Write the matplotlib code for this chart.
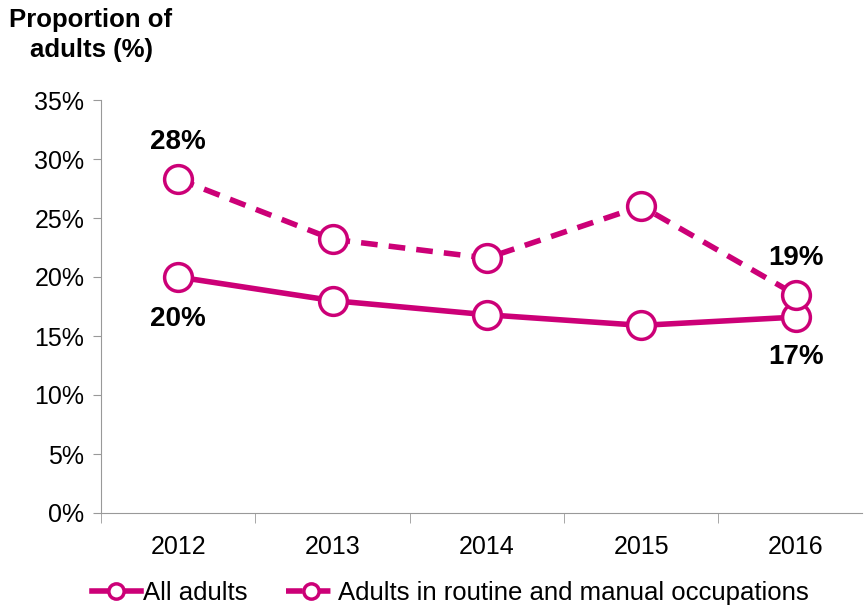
import numpy as np
import matplotlib.pyplot as plt
from matplotlib.ticker import PercentFormatter

years = ['2012', '2013', '2014', '2015', '2016']
all_adults = [20.0, 18.0, 16.8, 15.9, 16.6]
routine_manual = [28.3, 23.2, 21.6, 26.0, 18.5]
yticks = [0, 5, 10, 15, 20, 25, 30, 35]

plt.rcParams['font.family'] = ['Liberation Sans', 'DejaVu Sans']
pink = '#CC0077'

fig = plt.figure(figsize=(8.64, 6.07), dpi=100)
ax = fig.add_axes([101 / 864, 94 / 607, 761 / 864, 413 / 607])

x = np.arange(len(years))
ax.plot(x, all_adults, color=pink, lw=4, marker='o', ms=20, mfc='white',
        mec=pink, mew=2.5, label='All adults', zorder=3)
ax.plot(x, routine_manual, color=pink, lw=4, ls=(0, (3, 2)), marker='o', ms=20,
        mfc='white', mec=pink, mew=2.5,
        label='Adults in routine and manual occupations', zorder=3)

# data labels at first and last points
lab = dict(fontsize=20, fontweight='bold', ha='center', va='center')
ax.text(x[0], routine_manual[0] + 3.1, '28%', **lab)
ax.text(x[0], all_adults[0] - 3.6, '20%', **lab)
ax.text(x[-1], routine_manual[-1] + 3.1, '19%', **lab)
ax.text(x[-1], all_adults[-1] - 3.4, '17%', **lab)

ax.set_ylim(0, 35)
ax.set_yticks(yticks)
ax.yaxis.set_major_formatter(PercentFormatter(decimals=0))
ax.set_xlim(-0.5, 4.43)
ax.set_xticks(x)
ax.set_xticklabels(years)
ax.set_xticks(np.arange(-0.5, 4.5, 1), minor=True)
ax.tick_params(axis='x', which='major', length=0, pad=16, labelsize=18)
ax.tick_params(axis='x', which='minor', length=7, color='#999999')
ax.tick_params(axis='y', length=6, color='#999999', labelsize=18, pad=6)

for s in ['top', 'right']:
    ax.spines[s].set_visible(False)
for s in ['left', 'bottom']:
    ax.spines[s].set_color('#999999')

fig.text(91 / 864, 1 - 35 / 607, 'Proportion of\nadults (%)', fontsize=18.5,
         fontweight='bold', ha='center', va='center', linespacing=1.35)

fig.legend(loc='center', bbox_to_anchor=(450 / 864, 1 - 593 / 607), ncol=2,
           frameon=False, fontsize=18.5, handlelength=1.9, handletextpad=0.1,
           columnspacing=1.5, markerscale=0.55)

fig.savefig('out.png', dpi=100)
